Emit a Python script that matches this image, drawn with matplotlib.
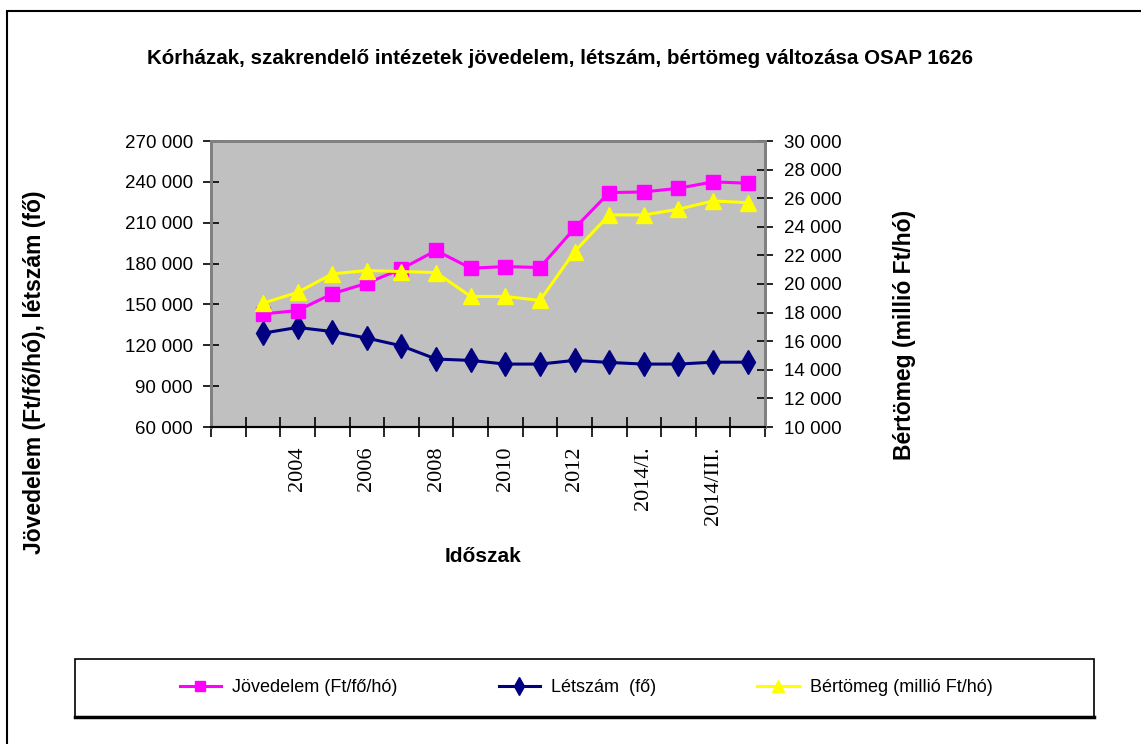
import numpy as np
import matplotlib
matplotlib.use("Agg")
import matplotlib.pyplot as plt
from matplotlib import font_manager
from matplotlib.patches import Rectangle
from matplotlib.ticker import FuncFormatter

# periods on the category axis (first slot is empty in the original chart)
periods = ["", "2003", "2004", "2005", "2006", "2007", "2008", "2009", "2010",
           "2011", "2012", "2013", "2014/I.", "2014/II.", "2014/III.", "2014/IV."]

# values
jovedelem = [143000, 145500, 157800, 165600, 176100, 189600, 176600, 177800,
             177100, 205900, 232100, 232600, 235300, 240000, 239000]
letszam = [128900, 133100, 130100, 125300, 119600, 109900, 108900, 106200,
           106200, 108900, 107400, 106200, 106200, 107600, 107600]
bertomeg = [18660, 19410, 20710, 20940, 20870, 20800, 19130, 19130,
            18850, 22270, 24830, 24830, 25230, 25810, 25690]

names = {f.name for f in font_manager.fontManager.ttflist}
narrow = "Liberation Sans Narrow" if "Liberation Sans Narrow" in names else "Liberation Sans"
sans = "Liberation Sans"
serif = "Liberation Serif"

W, H = 1141, 744
fig = plt.figure(figsize=(W / 100, H / 100), dpi=100)

# plot area in pixels: x 211..765, y 141..427
ax = fig.add_axes([211 / W, 1 - 427 / H, (765 - 211) / W, (427 - 141) / H])
ax.set_facecolor("#C0C0C0")
ax2 = ax.twinx()

x = np.arange(len(periods))
xd = x[1:]

ax.plot(xd, letszam, color="#000080", lw=2.2, marker="d", ms=12,
        mfc="#000080", mec="#000080", label="Létszám  (fő)", zorder=3)
ax.plot(xd, jovedelem, color="#FF00FF", lw=2.2, marker="s", ms=10,
        mfc="#FF00FF", mec="#FF00FF", label="Jövedelem (Ft/fő/hó)", zorder=4)
ax2.plot(xd, bertomeg, color="#FFFF00", lw=2.2, marker="^", ms=11,
         mfc="#FFFF00", mec="#FFFF00", label="Bértömeg (millió Ft/hó)", zorder=5)

ax.set_xlim(-0.5, len(periods) - 0.5)
ax.set_ylim(60000, 270000)
ax2.set_ylim(10000, 30000)
ax.set_yticks(np.arange(60000, 270001, 30000))
ax2.set_yticks(np.arange(10000, 30001, 2000))

fmt = FuncFormatter(lambda v, p: f"{int(v):,}".replace(",", " "))
ax.yaxis.set_major_formatter(fmt)
ax2.yaxis.set_major_formatter(fmt)

ax.set_xticks(x)
ax.set_xticklabels([p if i % 2 == 0 else "" for i, p in enumerate(periods)],
                   rotation=90, fontfamily=serif, fontsize=16, va="top")
ax.set_xticks(np.arange(-0.5, len(periods)), minor=True)
ax.tick_params(axis="x", which="major", length=0, pad=14)
ax.tick_params(axis="x", which="minor", length=14, direction="inout", width=1.2)
ax.tick_params(axis="y", length=12, direction="inout", width=1.2, pad=7,
               labelsize=13.5)
ax2.tick_params(axis="y", length=12, direction="inout", width=1.2, pad=8,
                labelsize=13.5)
for lab in ax.get_yticklabels() + ax2.get_yticklabels():
    lab.set_fontfamily(narrow)
for lab in ax.get_xticklabels():
    lab.set_x(lab.get_position()[0])

for a in (ax, ax2):
    for s in ("left", "right", "top"):
        a.spines[s].set_color("#808080")
        a.spines[s].set_linewidth(2)
    a.spines["bottom"].set_color("black")
    a.spines["bottom"].set_linewidth(1.5)

# texts
fig.text(560 / W, 1 - 58 / H,
         "Kórházak, szakrendelő intézetek jövedelem, létszám, bértömeg változása OSAP 1626",
         ha="center", va="center", fontsize=14.8, fontweight="bold", fontfamily=narrow)
fig.text(483 / W, 1 - 557 / H, "Időszak", ha="center", va="center",
         fontsize=15, fontweight="bold", fontfamily=narrow)
fig.text(35 / W, 1 - 372 / H, "Jövedelem (Ft/fő/hó), létszám (fő)", rotation=90,
         ha="center", va="center", fontsize=16.5, fontweight="bold", fontfamily=sans)
fig.text(905 / W, 1 - 335 / H, "Bértömeg (millió Ft/hó)", rotation=90,
         ha="center", va="center", fontsize=16.5, fontweight="bold", fontfamily=sans)

# outer chart border (only left and top visible)
fig.add_artist(Rectangle((7 / W, -0.1), 1.2, 733 / H + 0.1, transform=fig.transFigure,
                         fill=False, lw=1.5, ec="black"))

# legend box
fig.add_artist(Rectangle((75 / W, 1 - 717 / H), (1094 - 75) / W, 58 / H,
                         transform=fig.transFigure, fill=False, lw=1.2, ec="black"))
fig.add_artist(plt.Line2D([75 / W, 1094 / W], [1 - 717 / H, 1 - 717 / H],
                          transform=fig.transFigure, lw=2.5, color="black"))

h1, l1 = ax.get_legend_handles_labels()
h2, l2 = ax2.get_legend_handles_labels()
handles = [h1[1], h1[0], h2[0]]
labels = [l1[1], l1[0], l2[0]]
fig.legend(handles, labels, loc="center", bbox_to_anchor=(586 / W, 1 - 688 / H),
           ncol=3, frameon=False, columnspacing=5.6, handlelength=2.3,
           handletextpad=0.6, markerscale=0.75, prop={"family": narrow, "size": 13})

fig.savefig("out.png", dpi=100)
